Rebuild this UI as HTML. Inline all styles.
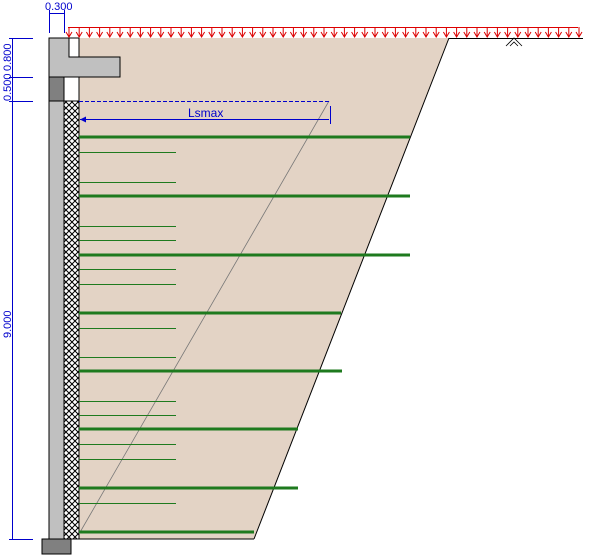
<!DOCTYPE html>
<html><head><meta charset="utf-8"><style>body{margin:0;background:#fff}svg{display:block}</style></head>
<body>
<svg id="s" width="600" height="558" viewBox="0 0 600 558" xmlns="http://www.w3.org/2000/svg" font-family="Liberation Sans, sans-serif">
<defs>
<pattern id="x" width="6" height="6" patternUnits="userSpaceOnUse">
<rect width="6" height="6" fill="#fff"/>
<path d="M0,0L6,6M6,0L0,6" stroke="#000" stroke-width="1"/>
</pattern>
</defs>
<polygon points="79,38 449,38 254,539 79,539" fill="#e3d3c5"/>
<line x1="449" y1="38" x2="254" y2="539" stroke="#000" stroke-width="1"/>
<line x1="79" y1="539" x2="254" y2="539" stroke="#000"/>
<line x1="449" y1="38.5" x2="583" y2="38.5" stroke="#000"/>
<path d="M506,46l8,-8l8,8M510,46l4,-4l4,4" stroke="#000" fill="none" stroke-width="0.8"/>
<path d="M49,38H69V57H120V77H49Z" fill="#c0c0c0" stroke="#000"/>
<rect x="69" y="38" width="10" height="19" fill="#fff" stroke="#000"/>
<rect x="49" y="77" width="15" height="24" fill="#808080" stroke="#000"/>
<rect x="64" y="77" width="15" height="24" fill="#fff" stroke="#000"/>
<rect x="49" y="101" width="15" height="438" fill="#c0c0c0" stroke="#000"/>
<rect x="64" y="101" width="15" height="438" fill="url(#x)" stroke="#000"/>
<rect x="42" y="539" width="29" height="15" fill="#808080" stroke="#000"/>
<line x1="79" y1="534" x2="329" y2="101" stroke="#777" stroke-width="0.8"/>
<g shape-rendering="crispEdges">
<line x1="79" y1="101.5" x2="329" y2="101.5" stroke="#00c" stroke-dasharray="4,2"/>
<line x1="80" y1="119.5" x2="329" y2="119.5" stroke="#00c"/>
<line x1="330.5" y1="106" x2="330.5" y2="124" stroke="#00c"/>
</g>
<path d="M80,119.5l6,-3v6z" fill="#00c"/>
<text x="188" y="117" font-size="12" fill="#00c">Lsmax</text>
<g id="g" stroke="#1e7a1e" shape-rendering="crispEdges"></g>
<g id="a" stroke="#d00" fill="#d00"></g>
<g stroke="#00c" fill="none" shape-rendering="crispEdges">
<line x1="12.5" y1="38" x2="12.5" y2="539"/>
<line x1="9" y1="38.5" x2="33" y2="38.5"/>
<line x1="9" y1="77.5" x2="33" y2="77.5"/>
<line x1="9" y1="101.5" x2="33" y2="101.5"/>
<line x1="9" y1="539.5" x2="33" y2="539.5"/>
<line x1="49.5" y1="10" x2="49.5" y2="33"/>
<line x1="64.5" y1="10" x2="64.5" y2="33"/>
<line x1="49" y1="13.5" x2="64" y2="13.5"/>
</g>
<g fill="#00c" font-size="11">
<text x="45" y="10">0.300</text>
<text transform="translate(11,71) rotate(-90)">0.800</text>
<text transform="translate(11,101) rotate(-90)">0.500</text>
<text transform="translate(11,338) rotate(-90)">9.000</text>
</g>
</svg>
<script>
var ns="http://www.w3.org/2000/svg",g=document.getElementById('g'),a=document.getElementById('a');
function L(p,x1,y1,x2,y2,w){var l=document.createElementNS(ns,'line');l.setAttribute('x1',x1);l.setAttribute('y1',y1);l.setAttribute('x2',x2);l.setAttribute('y2',y2);if(w)l.setAttribute('stroke-width',w);p.appendChild(l);}
[[137,410],[196,410],[255,410],[313,341],[371,342],[429,298],[488,298],[532,254]].forEach(function(t){L(g,79,t[0],t[1],t[0],3);});
[152,182,226,240,269,284,328,357,401,415,444,459,503].forEach(function(y){L(g,79,y+0.5,176,y+0.5,1);});
L(a,68,27.5,578,27.5,1);
for(var x=69;x<=579;x+=10.2){L(a,x,27,x,36,1);var p=document.createElementNS(ns,'path');p.setAttribute('d','M'+(x-3)+',32L'+x+',37L'+(x+3)+',32');p.setAttribute('fill','none');a.appendChild(p);}
</script>
</body></html>
